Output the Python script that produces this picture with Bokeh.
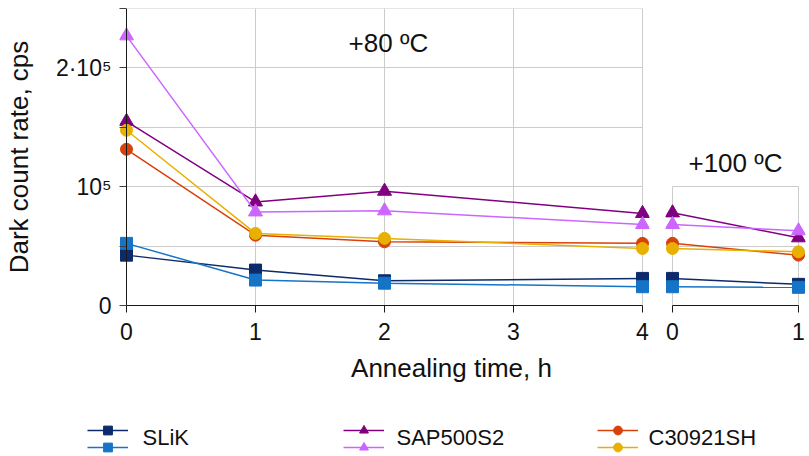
from bokeh.plotting import figure
from bokeh.models import (Range1d, FixedTicker, Span, Label, Legend, LegendItem,
                          ColumnDataSource)
from bokeh.layouts import column, row
from bokeh.embed import file_html
from bokeh.resources import INLINE

# ---------------- data ----------------
hours_80 = [0, 1, 2, 4]
hours_100 = [0, 1]

slik_1_80 = [42400, 29800, 20800, 22800]
slik_2_80 = [52300, 21400, 18800, 15800]
sap_1_80 = [155000, 87200, 96200, 77500]
sap_2_80 = [227000, 78800, 79700, 68200]
c309_1_80 = [131500, 59200, 53600, 52300]
c309_2_80 = [147500, 60700, 56500, 48000]

slik_1_100 = [22800, 17800]
slik_2_100 = [15800, 15300]
sap_1_100 = [78000, 57000]
sap_2_100 = [68200, 62900]
c309_1_100 = [52300, 42400]
c309_2_100 = [48000, 45200]

legend_labels = ["SLiK", "SAP500S2", "C30921SH"]
y_ticks = [0, 50000, 100000, 150000, 200000, 250000]
y_tick_labels = ["0", "", "10⁵", "", "2·10⁵", ""]
y_ticks_100 = [50000, 100000]
x_ticks_80 = [0, 1, 2, 3, 4]
x_ticks_100 = [0, 1]
panel_80 = "+80 ºC"
panel_100 = "+100 ºC"
x_title = "Annealing time, h"
y_title = "Dark count rate, cps"

series_80 = [slik_1_80, slik_2_80, sap_1_80, sap_2_80, c309_1_80, c309_2_80]
series_100 = [slik_1_100, slik_2_100, sap_1_100, sap_2_100, c309_1_100, c309_2_100]

# ---------------- styles ----------------
FONT = "Liberation Sans"
styles = [
    ("#0d2a6b", "square", 12),
    ("#1674c6", "square", 12),
    ("#800080", "triangle", 14),
    ("#cc66ff", "triangle", 14),
    ("#d9410b", "circle", 12),
    ("#e8b000", "circle", 12),
]
GRID = "#cccccc"
AXIS = "#1a1a1a"
TXT = "#111111"
TICK_FS = "23px"
TITLE_FS = "26px"
ANN_FS = "26px"
LEG_FS = "22px"
Y_TOP = 250000.5


def draw(p, xs, series):
    for ys, (col, mk, sz) in zip(series, styles):
        src = ColumnDataSource(dict(x=xs, y=ys))
        p.line("x", "y", source=src, line_color=col, line_width=1.5)
        p.scatter("x", "y", source=src, marker=mk, size=sz,
                  fill_color=col, line_color=col)


def style_xaxis(p, ticks):
    ax = p.xaxis[0]
    ax.ticker = FixedTicker(ticks=ticks)
    ax.bounds = (min(ticks), max(ticks))
    ax.major_tick_out = 7
    ax.major_tick_in = 0
    ax.minor_tick_line_color = None
    ax.axis_line_color = AXIS
    ax.major_tick_line_color = AXIS
    ax.major_label_text_font = FONT
    ax.major_label_text_font_size = TICK_FS
    ax.major_label_text_color = TXT
    ax.major_label_standoff = 10


# ---------------- left panel (+80) ----------------
pad_l = 7 / 129.0
p1 = figure(frame_width=530, frame_height=297,
            min_border_left=118, min_border_right=8,
            min_border_top=8, min_border_bottom=45,
            x_range=Range1d(-pad_l, 4 + pad_l), y_range=Range1d(0, Y_TOP),
            output_backend="svg", toolbar_location=None)
p1.outline_line_color = None
draw(p1, hours_80, series_80)
style_xaxis(p1, x_ticks_80)

ya = p1.yaxis[0]
ya.ticker = FixedTicker(ticks=y_ticks)
ya.major_label_overrides = dict(zip(y_ticks, y_tick_labels))
ya.axis_line_color = None
ya.major_tick_in = 7
ya.major_tick_out = 0
ya.major_tick_line_color = "#404040"
ya.minor_tick_line_color = None
ya.major_label_text_font = FONT
ya.major_label_text_font_size = TICK_FS
ya.major_label_text_color = TXT
ya.major_label_standoff = 8
ya.axis_label = y_title
ya.axis_label_text_font = FONT
ya.axis_label_text_font_size = TITLE_FS
ya.axis_label_text_font_style = "normal"
ya.axis_label_text_color = TXT
ya.axis_label_standoff = 19

p1.xgrid.ticker = FixedTicker(ticks=x_ticks_80[1:])
p1.ygrid.ticker = FixedTicker(ticks=y_ticks[1:])
p1.ygrid.cross_bounds = (0, 4)
p1.grid.grid_line_color = GRID
p1.grid.grid_line_width = 1
p1.add_layout(Span(location=0, dimension="height", line_color=AXIS, line_width=1))
p1.add_layout(Label(x=2.03, y=221000, text=panel_80, text_align="center",
                    text_baseline="middle", text_font=FONT,
                    text_font_size=ANN_FS, text_color=TXT))

# ---------------- right panel (+100) ----------------
p2 = figure(frame_width=140, frame_height=297,
            min_border_left=8, min_border_right=5,
            min_border_top=8, min_border_bottom=45,
            x_range=Range1d(-7 / 126.0, 1 + 7 / 126.0), y_range=Range1d(0, Y_TOP),
            y_axis_location=None,
            output_backend="svg", toolbar_location=None)
p2.outline_line_color = None
draw(p2, hours_100, series_100)
style_xaxis(p2, x_ticks_100)
p2.xgrid.ticker = FixedTicker(ticks=x_ticks_100)
p2.xgrid.cross_bounds = (0, y_ticks_100[-1])
p2.ygrid.ticker = FixedTicker(ticks=y_ticks_100)
p2.ygrid.cross_bounds = (0, 1)
p2.grid.grid_line_color = GRID
p2.grid.grid_line_width = 1
p2.add_layout(Label(x=0.5, y=120000, text=panel_100, text_align="center",
                    text_baseline="middle", text_font=FONT,
                    text_font_size=ANN_FS, text_color=TXT))

# ---------------- bottom: x title + legend ----------------
p3 = figure(frame_width=809, frame_height=106, min_border=0,
            x_range=Range1d(0, 809), y_range=Range1d(456, 350),
            x_axis_location=None, y_axis_location=None,
            output_backend="svg", toolbar_location=None)
p3.grid.visible = False
p3.outline_line_color = None
p3.add_layout(Label(x=451, y=367, text=x_title, text_align="center",
                    text_baseline="middle", text_font=FONT,
                    text_font_size=TITLE_FS, text_color=TXT))

rends = []
for col, mk, sz in styles:
    src = ColumnDataSource(dict(x=[float("nan")], y=[float("nan")]))
    lr = p3.line("x", "y", source=src, line_color=col, line_width=1.5)
    sr = p3.scatter("x", "y", source=src, marker=mk, size=sz,
                    fill_color=col, line_color=col)
    rends.append([lr, sr])

group_x = [87, 343, 597]
label_x = [142, 396, 648]
row_vy = [15, -2]
for g, lab in enumerate(legend_labels):
    for k in range(2):
        i = 2 * g + k
        leg = Legend(items=[LegendItem(label=" ", renderers=rends[i])],
                     location=(group_x[g], row_vy[k]),
                     padding=0, margin=0, spacing=0,
                     border_line_color=None, background_fill_alpha=0,
                     glyph_width=41, glyph_height=22, label_standoff=0,
                     label_width=0, label_height=0,
                     label_text_font=FONT, label_text_font_size="1px")
        p3.add_layout(leg)
    p3.add_layout(Label(x=label_x[g], y=437, text=lab, text_align="left",
                        text_baseline="middle", text_font=FONT,
                        text_font_size=LEG_FS, text_color=TXT))

layout = column(row(p1, p2), p3)
open("out.html", "w").write(file_html(layout, INLINE))
